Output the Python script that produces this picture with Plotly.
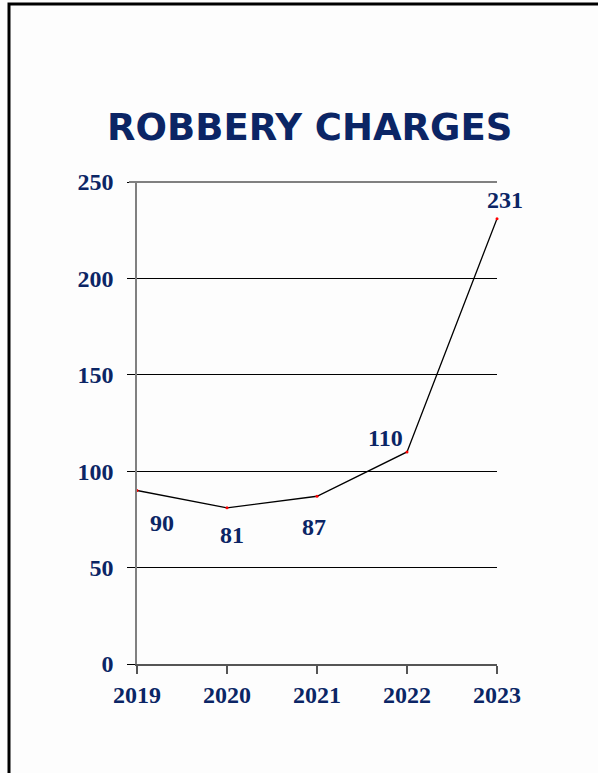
import plotly.graph_objects as go

# data
years = [2019, 2020, 2021, 2022, 2023]
charges = [90, 81, 87, 110, 231]
y_ticks = [0, 50, 100, 150, 200, 250]

navy = "#0b2565"
serif = "Liberation Serif, Times New Roman, serif"
label_font = dict(family=serif, size=24, color=navy, weight="bold")

fig = go.Figure()

fig.add_trace(go.Scatter(
    x=years, y=charges,
    mode="lines+markers",
    line=dict(color="black", width=1.3),
    marker=dict(color="red", size=3),
    cliponaxis=False,
    hoverinfo="x+y",
))

# value labels sit around each point a little differently, like the original
label_shift = [(25, -33), (5, -27), (-3, -31), (-22, 14), (8, 19)]
for yr, val, (dx, dy) in zip(years, charges, label_shift):
    fig.add_annotation(x=yr, y=val, text=str(val), showarrow=False,
                       xshift=dx, yshift=dy, font=label_font)

fig.update_layout(
    width=598, height=773,
    margin=dict(l=137, r=101, t=182, b=109),
    paper_bgcolor="#fdfdfd",
    plot_bgcolor="#fdfdfd",
    showlegend=False,
    title=dict(
        text="ROBBERY CHARGES",
        font=dict(family="DejaVu Sans", size=37, color=navy, weight="bold"),
        x=0.518, xanchor="center", y=1 - 127 / 773, yanchor="middle",
    ),
    xaxis=dict(
        range=[2019, 2023],
        tickvals=years,
        ticktext=[str(y) for y in years],
        showgrid=False,
        showline=True, linecolor="#555555", linewidth=1.5,
        ticks="outside", ticklen=8, tickcolor="#555555", tickwidth=1.5,
        tickfont=label_font,
        zeroline=False,
    ),
    yaxis=dict(
        range=[0, 250],
        tickvals=y_ticks,
        showgrid=True, gridcolor="black", gridwidth=1,
        showline=True, linecolor="#808080", linewidth=1.5,
        ticks="outside", ticklen=8, tickcolor="black", tickwidth=1,
        ticklabelstandoff=9,
        tickfont=label_font,
        zeroline=False,
    ),
)

# grey top edge of the plot and the slide frame
fig.add_shape(type="line", xref="paper", yref="paper",
              x0=-8 / 360, x1=1, y0=1, y1=1,
              line=dict(color="#808080", width=2))
fig.add_shape(type="rect", xref="paper", yref="paper",
              x0=(9 - 137) / 360, x1=1.5, y0=-0.5, y1=(664 - 4) / 482,
              line=dict(color="black", width=3))

# no page margin so the figure fills the window
fig.write_html("out.html", config={"displayModeBar": False},
               post_script="document.body.style.margin='0';")
